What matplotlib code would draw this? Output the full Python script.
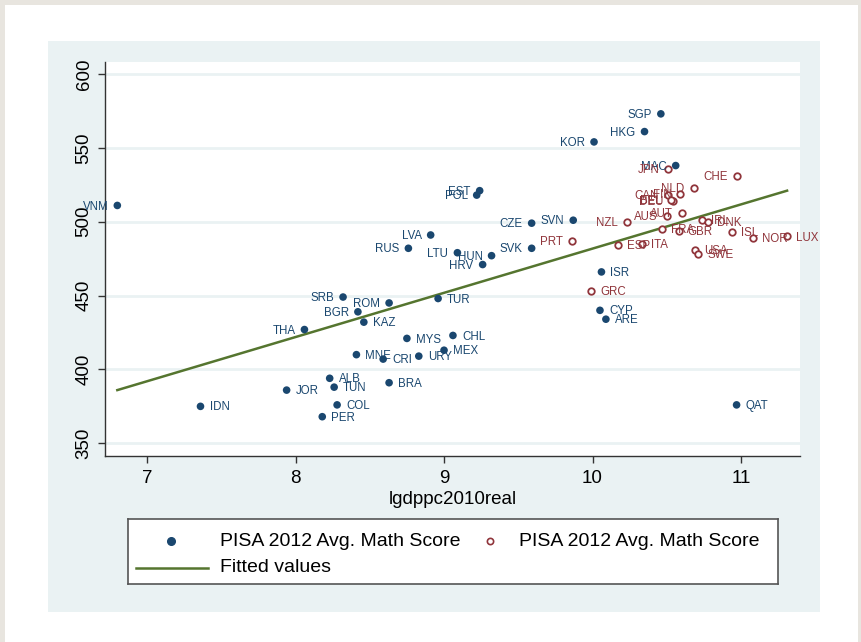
import matplotlib.pyplot as plt
from matplotlib.patches import Rectangle
from matplotlib.lines import Line2D

plt.rcParams["font.family"] = ["Liberation Sans", "DejaVu Sans"]

# non-OECD group (filled navy dots)
countries_a = ["VNM", "IDN", "JOR", "THA", "SRB", "ALB", "TUN", "COL", "PER", "BGR",
               "ROM", "KAZ", "MNE", "CRI", "URY", "MYS", "CHL", "MEX", "BRA", "TUR",
               "LVA", "RUS", "LTU", "HUN", "HRV", "SVK", "CZE", "SVN", "EST", "POL",
               "KOR", "HKG", "SGP", "MAC", "ISR", "CYP", "ARE", "QAT"]
gdp_a = [6.80, 7.36, 7.94, 8.06, 8.32, 8.23, 8.26, 8.28, 8.18, 8.42,
         8.63, 8.46, 8.41, 8.59, 8.83, 8.75, 9.06, 9.00, 8.63, 8.96,
         8.91, 8.76, 9.09, 9.32, 9.26, 9.59, 9.59, 9.87, 9.24, 9.22,
         10.01, 10.35, 10.46, 10.56, 10.06, 10.05, 10.09, 10.97]
math_a = [511, 375, 386, 427, 449, 394, 388, 376, 368, 439,
          445, 432, 410, 407, 409, 421, 423, 413, 391, 448,
          491, 482, 479, 477, 471, 482, 499, 501, 521, 518,
          554, 561, 573, 538, 466, 440, 434, 376]
labels_left_a = {"VNM", "THA", "SRB", "BGR", "ROM", "LVA", "RUS", "LTU", "HUN", "HRV",
                 "SVK", "CZE", "SVN", "EST", "POL", "KOR", "HKG", "SGP", "MAC"}

# OECD group (hollow red circles)
countries_b = ["JPN", "CHE", "NLD", "CAN", "FIN", "DEU", "BEL", "AUS", "AUT", "NZL",
               "PRT", "ESP", "ITA", "FRA", "GBR", "IRL", "DNK", "ISL", "NOR", "LUX",
               "USA", "SWE", "GRC"]
gdp_b = [10.51, 10.97, 10.68, 10.51, 10.59, 10.54, 10.53, 10.50, 10.60, 10.23,
         9.86, 10.17, 10.33, 10.47, 10.58, 10.74, 10.78, 10.94, 11.08, 11.31,
         10.69, 10.71, 9.99]
math_b = [536, 531, 523, 518, 519, 514, 515, 504, 506, 500,
          487, 484, 485, 495, 494, 501, 500, 493, 489, 490,
          481, 478, 453]
labels_left_b = {"JPN", "CHE", "NLD", "CAN", "FIN", "DEU", "BEL", "AUS", "AUT", "NZL", "PRT"}

fit_x = [6.80, 11.31]
fit_y = [386, 521]

y_ticks = [350, 400, 450, 500, 550, 600]
x_ticks = [7, 8, 9, 10, 11]

NAVY = "#1a476f"
MAROON = "#90353b"
GREEN = "#55752f"
GRAPH_BG = "#eaf2f3"
W, H = 861, 642

fig = plt.figure(figsize=(W / 100, H / 100), dpi=100)
fig.patch.set_facecolor("#e8e5df")
fig.patches.append(Rectangle((5 / W, 0), 853 / W, 637 / H, transform=fig.transFigure,
                             facecolor="white", edgecolor="none", zorder=-3))
fig.patches.append(Rectangle((48 / W, (H - 612) / H), 772 / W, 571 / H, transform=fig.transFigure,
                             facecolor=GRAPH_BG, edgecolor="none", zorder=-2))

ax = fig.add_axes([105 / W, (H - 455.7) / H, 695 / W, 393.7 / H])
ax.set_facecolor("white")
ax.set_xlim(6.717, 11.397)
ax.set_ylim(341.6, 608.1)

for yv in y_ticks:
    ax.axhline(yv, color=GRAPH_BG, lw=2, zorder=0)

ax.plot(fit_x, fit_y, color=GREEN, lw=1.8, zorder=2)
ax.scatter(gdp_a, math_a, s=30, color=NAVY, edgecolors="none", zorder=3)
ax.scatter(gdp_b, math_b, s=22, facecolors="white", edgecolors=MAROON, linewidths=1.3, zorder=3)

for name, xv, yv in zip(countries_a, gdp_a, math_a):
    left = name in labels_left_a
    ax.annotate(name, (xv, yv), xytext=(-6.5 if left else 6.5, -0.8), textcoords="offset points",
                ha="right" if left else "left", va="center", fontsize=8.3, color=NAVY, zorder=4)
for name, xv, yv in zip(countries_b, gdp_b, math_b):
    left = name in labels_left_b
    ax.annotate(name, (xv, yv), xytext=(-6.5 if left else 6.5, -0.8), textcoords="offset points",
                ha="right" if left else "left", va="center", fontsize=8.3, color=MAROON, zorder=4)

for side in ["top", "right"]:
    ax.spines[side].set_visible(False)
for side in ["left", "bottom"]:
    ax.spines[side].set_color("#333333")
    ax.spines[side].set_linewidth(1.0)

ax.set_xticks(x_ticks)
ax.set_yticks(y_ticks)
ax.tick_params(axis="both", length=5, width=1, color="#333333", labelsize=13.5, labelcolor="black")
ax.tick_params(axis="x", pad=5)
ax.tick_params(axis="y", pad=4)
for lab in ax.get_yticklabels():
    lab.set_rotation(90)
    lab.set_va("center")
ax.set_xlabel("lgdppc2010real", fontsize=13.5, labelpad=3)

# legend box drawn like Stata's
lg = fig.add_axes([128 / W, (H - 584) / H, 650 / W, 65 / H])
lg.set_xlim(0, 650)
lg.set_ylim(65, 0)
lg.set_xticks([])
lg.set_yticks([])
for s in lg.spines.values():
    s.set_color("#555555")
    s.set_linewidth(1.2)
lg.add_line(Line2D([43], [22], marker="o", markersize=5.5, color=NAVY, linestyle="none"))
lg.add_line(Line2D([362], [22], marker="o", markersize=4.5, markerfacecolor="white",
                   markeredgecolor=MAROON, markeredgewidth=1.2, linestyle="none"))
lg.add_line(Line2D([8, 80], [49, 49], color=GREEN, lw=1.8))
lg.text(92, 22, "PISA 2012 Avg. Math Score", fontsize=14, va="center", ha="left")
lg.text(391, 22, "PISA 2012 Avg. Math Score", fontsize=14, va="center", ha="left")
lg.text(92, 49, "Fitted values", fontsize=14, va="center", ha="left")

fig.savefig("out.png", dpi=100, facecolor=fig.get_facecolor())
